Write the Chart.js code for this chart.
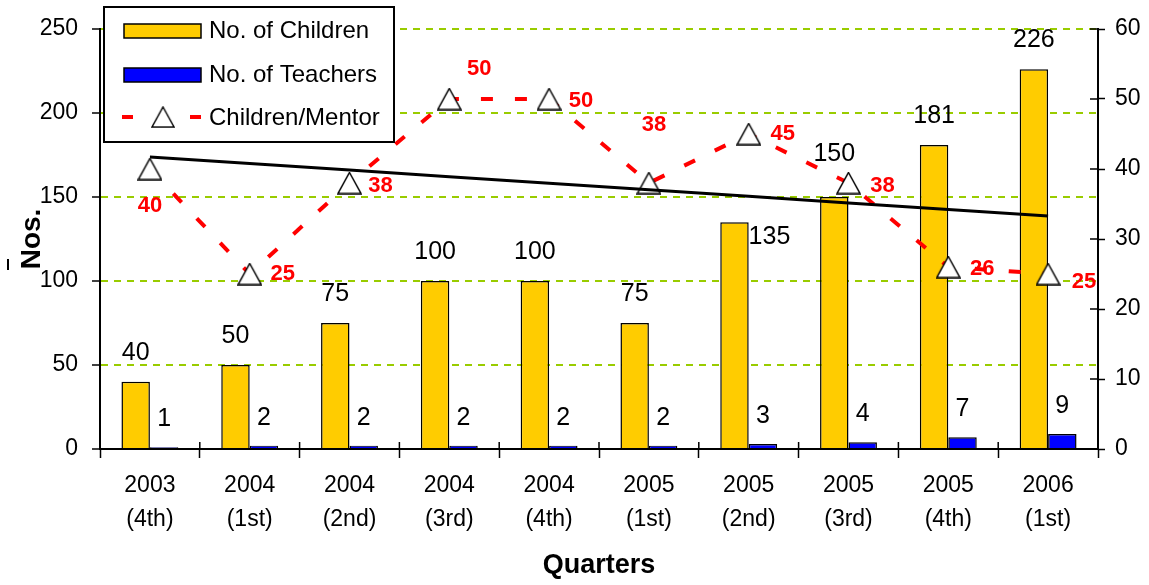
<!DOCTYPE html>
<html>
<head>
<meta charset="utf-8">
<title>Children and Teachers by Quarter</title>
<script src="https://cdn.jsdelivr.net/npm/chart.js@4.4.1/dist/chart.umd.min.js"></script>
<style>
    html, body { margin: 0; padding: 0; background: #fff; }
    canvas { display: block; }
</style>
</head>
<body>
<canvas id="myChart" width="1149" height="585"></canvas>
<script>
let quarters = [
    ['2003', '(4th)'], ['2004', '(1st)'], ['2004', '(2nd)'], ['2004', '(3rd)'], ['2004', '(4th)'],
    ['2005', '(1st)'], ['2005', '(2nd)'], ['2005', '(3rd)'], ['2005', '(4th)'], ['2006', '(1st)']
];
let children = [40, 50, 75, 100, 100, 75, 135, 150, 181, 226];
let teachers = [1, 2, 2, 2, 2, 2, 3, 4, 7, 9];
let childrenPerMentor = [40, 25, 38, 50, 50, 38, 45, 38, 26, 25];
let leftTicks = [0, 50, 100, 150, 200, 250];
let rightTicks = [0, 10, 20, 30, 40, 50, 60];

const FONT = "'Liberation Sans', Arial, sans-serif";

// where each value label sits relative to its mark (dx, dy)
let childLabelShift = [[0, -29], [0, -29], [0, -29], [0, -29], [0, -29], [0, -29], [35, 15], [0, -43], [0, -29], [0, -29]];
let teacherLabelShift = [0, -28];
let ratioLabelShift = [[0, 37], [33, 0], [31, 3], [30, -30], [32, 2], [5, -58], [34, 0], [34, 3], [34, 2], [36, 8]];


function trendLine(values) {
    // least squares fit, one value per category
    let n = values.length;
    let mx = (n - 1) / 2;
    let my = values.reduce((a, b) => a + b, 0) / n;
    let sxy = 0, sxx = 0;
    for (let i = 0; i < n; i++) {
        sxy += (i - mx) * (values[i] - my);
        sxx += (i - mx) * (i - mx);
    }
    let slope = sxy / sxx;
    return values.map((v, i) => my + slope * (i - mx));
}


function makeTriangle(w, h) {
    let c = document.createElement('canvas');
    c.width = w;
    c.height = h;
    let g = c.getContext('2d');
    g.beginPath();
    g.moveTo(w / 2, 1);
    g.lineTo(w - 1, h - 1);
    g.lineTo(1, h - 1);
    g.closePath();
    g.fillStyle = '#fff';
    g.fill();
    g.strokeStyle = '#000';
    g.lineWidth = 1.5;
    g.stroke();
    return c;
}

let triangle = makeTriangle(25, 23);


const valueLabels = {
    id: 'valueLabels',
    afterDatasetsDraw(chart) {
        let ctx = chart.ctx;
        ctx.save();
        ctx.textAlign = 'center';
        ctx.textBaseline = 'middle';

        ctx.font = `25px ${FONT}`;
        ctx.fillStyle = '#000';
        chart.getDatasetMeta(0).data.forEach((bar, i) => {
            let s = childLabelShift[i];
            ctx.fillText(children[i], bar.x + s[0], bar.y + s[1]);
        });
        chart.getDatasetMeta(1).data.forEach((bar, i) => {
            ctx.fillText(teachers[i], bar.x + teacherLabelShift[0], bar.y + teacherLabelShift[1]);
        });

        ctx.font = `bold 22px ${FONT}`;
        ctx.fillStyle = '#ff0000';
        chart.getDatasetMeta(2).data.forEach((pt, i) => {
            let s = ratioLabelShift[i];
            ctx.fillText(childrenPerMentor[i], pt.x + s[0], pt.y + s[1]);
        });
        ctx.restore();
    }
};


const chartExtras = {
    id: 'chartExtras',
    afterDraw(chart) {
        let ctx = chart.ctx;
        let area = chart.chartArea;
        let x = chart.scales.x;
        let y1 = chart.scales.y1;
        ctx.save();

        // inner halves of the crossing tick marks
        ctx.strokeStyle = '#000';
        ctx.lineWidth = 1.5;
        ctx.beginPath();
        for (let i = 1; i < quarters.length; i++) {
            let px = (x.getPixelForTick(i - 1) + x.getPixelForTick(i)) / 2;
            ctx.moveTo(px, area.bottom);
            ctx.lineTo(px, area.bottom - 7);
        }
        rightTicks.forEach(v => {
            let py = y1.getPixelForValue(v);
            ctx.moveTo(area.right, py);
            ctx.lineTo(area.right - 8, py);
        });
        ctx.stroke();

        // small stroke beside the axis title
        ctx.fillStyle = '#000';
        ctx.fillRect(7, 259, 2, 11);

        // legend box
        ctx.fillStyle = '#fff';
        ctx.fillRect(104, 7, 290, 135);
        ctx.lineWidth = 2;
        ctx.strokeRect(104, 7, 290, 135);

        let sets = chart.data.datasets;
        ctx.lineWidth = 1.5;
        ctx.fillStyle = sets[0].backgroundColor;
        ctx.fillRect(124, 24, 77, 14);
        ctx.strokeRect(124, 24, 77, 14);
        ctx.fillStyle = sets[1].backgroundColor;
        ctx.fillRect(124, 68, 77, 14);
        ctx.strokeRect(124, 68, 77, 14);

        ctx.strokeStyle = '#ff0000';
        ctx.lineWidth = 4;
        ctx.beginPath();
        ctx.moveTo(122, 117);
        ctx.lineTo(133, 117);
        ctx.moveTo(190, 117);
        ctx.lineTo(201, 117);
        ctx.stroke();
        ctx.drawImage(triangle, 163 - 12, 106, 24, 22);

        ctx.fillStyle = '#000';
        ctx.font = `24px ${FONT}`;
        ctx.textAlign = 'left';
        ctx.textBaseline = 'middle';
        ctx.fillText(sets[0].label, 209, 31);
        ctx.fillText(sets[1].label, 209, 75);
        ctx.fillText(sets[2].label, 209, 118);
        ctx.restore();
    }
};


function showChart() {
    let canvas = document.getElementById('myChart');
    let ctx = canvas.getContext('2d');
    Chart.defaults.font.family = FONT;
    Chart.defaults.color = '#000';

    new Chart(ctx, {
        data: {
            labels: quarters,
            datasets: [{
                type: 'bar',
                label: 'No. of Children',
                data: children,
                backgroundColor: '#ffcc00',
                borderColor: '#000',
                borderWidth: 1.5,
                yAxisID: 'y',
                order: 2
            }, {
                type: 'bar',
                label: 'No. of Teachers',
                data: teachers,
                backgroundColor: '#0000ff',
                borderColor: '#000',
                borderWidth: 1.5,
                yAxisID: 'y',
                order: 3
            }, {
                type: 'line',
                label: 'Children/Mentor',
                data: childrenPerMentor,
                borderColor: '#ff0000',
                borderWidth: 4,
                borderDash: [12, 22],
                borderCapStyle: 'butt',
                tension: 0,
                pointStyle: triangle,
                pointRadius: 12,
                yAxisID: 'y1',
                order: 1
            }, {
                type: 'line',
                label: 'Trend',
                data: trendLine(childrenPerMentor),
                borderColor: '#000',
                borderWidth: 3,
                pointRadius: 0,
                yAxisID: 'y1',
                order: 0
            }]
        },
        options: {
            responsive: false,
            animation: false,
            layout: { padding: { top: 29, left: 0, right: 0, bottom: 0 } },
            plugins: {
                legend: { display: false },
                tooltip: { enabled: false }
            },
            datasets: {
                bar: { categoryPercentage: 0.57, barPercentage: 1 }
            },
            scales: {
                x: {
                    offset: true,
                    grid: { offset: true, drawOnChartArea: false, tickLength: 9, tickColor: '#000', tickWidth: 1.5 },
                    border: { color: '#000', width: 2 },
                    ticks: {
                        font: { size: 23, lineHeight: 34 / 23 },
                        color: '#000',
                        padding: 11,
                        maxRotation: 0,
                        autoSkip: false
                    },
                    title: {
                        display: true,
                        text: 'Quarters',
                        font: { size: 27, weight: 'bold' },
                        color: '#000',
                        padding: { top: 0, bottom: 3 }
                    },
                    afterFit(scale) { scale.height = 136; }
                },
                y: {
                    position: 'left',
                    min: 0,
                    max: 250,
                    afterBuildTicks(scale) { scale.ticks = leftTicks.map(v => ({ value: v })); },
                    grid: {
                        color: c => (c.tick && c.tick.value === 0) ? 'rgba(0,0,0,0)' : '#99cc00',
                        lineWidth: 2,
                        tickLength: 8,
                        tickColor: '#000',
                        tickWidth: 1.5
                    },
                    border: { color: '#000', width: 2, dash: [7, 6] },
                    ticks: { font: { size: 23 }, color: '#000', padding: 14 },
                    title: {
                        display: true,
                        text: 'Nos.',
                        font: { size: 28, weight: 'bold' },
                        color: '#000',
                        padding: { top: 15, bottom: 0 }
                    },
                    afterFit(scale) { scale.width = 100; }
                },
                y1: {
                    position: 'right',
                    min: 0,
                    max: 60,
                    afterBuildTicks(scale) { scale.ticks = rightTicks.map(v => ({ value: v })); },
                    grid: { drawOnChartArea: false, tickLength: 7, tickColor: '#000', tickWidth: 1.5 },
                    border: { color: '#000', width: 2 },
                    ticks: { font: { size: 23 }, color: '#000', padding: 10 },
                    afterFit(scale) { scale.width = 51; }
                }
            }
        },
        plugins: [valueLabels, chartExtras]
    });
}

showChart();
</script>
</body>
</html>
